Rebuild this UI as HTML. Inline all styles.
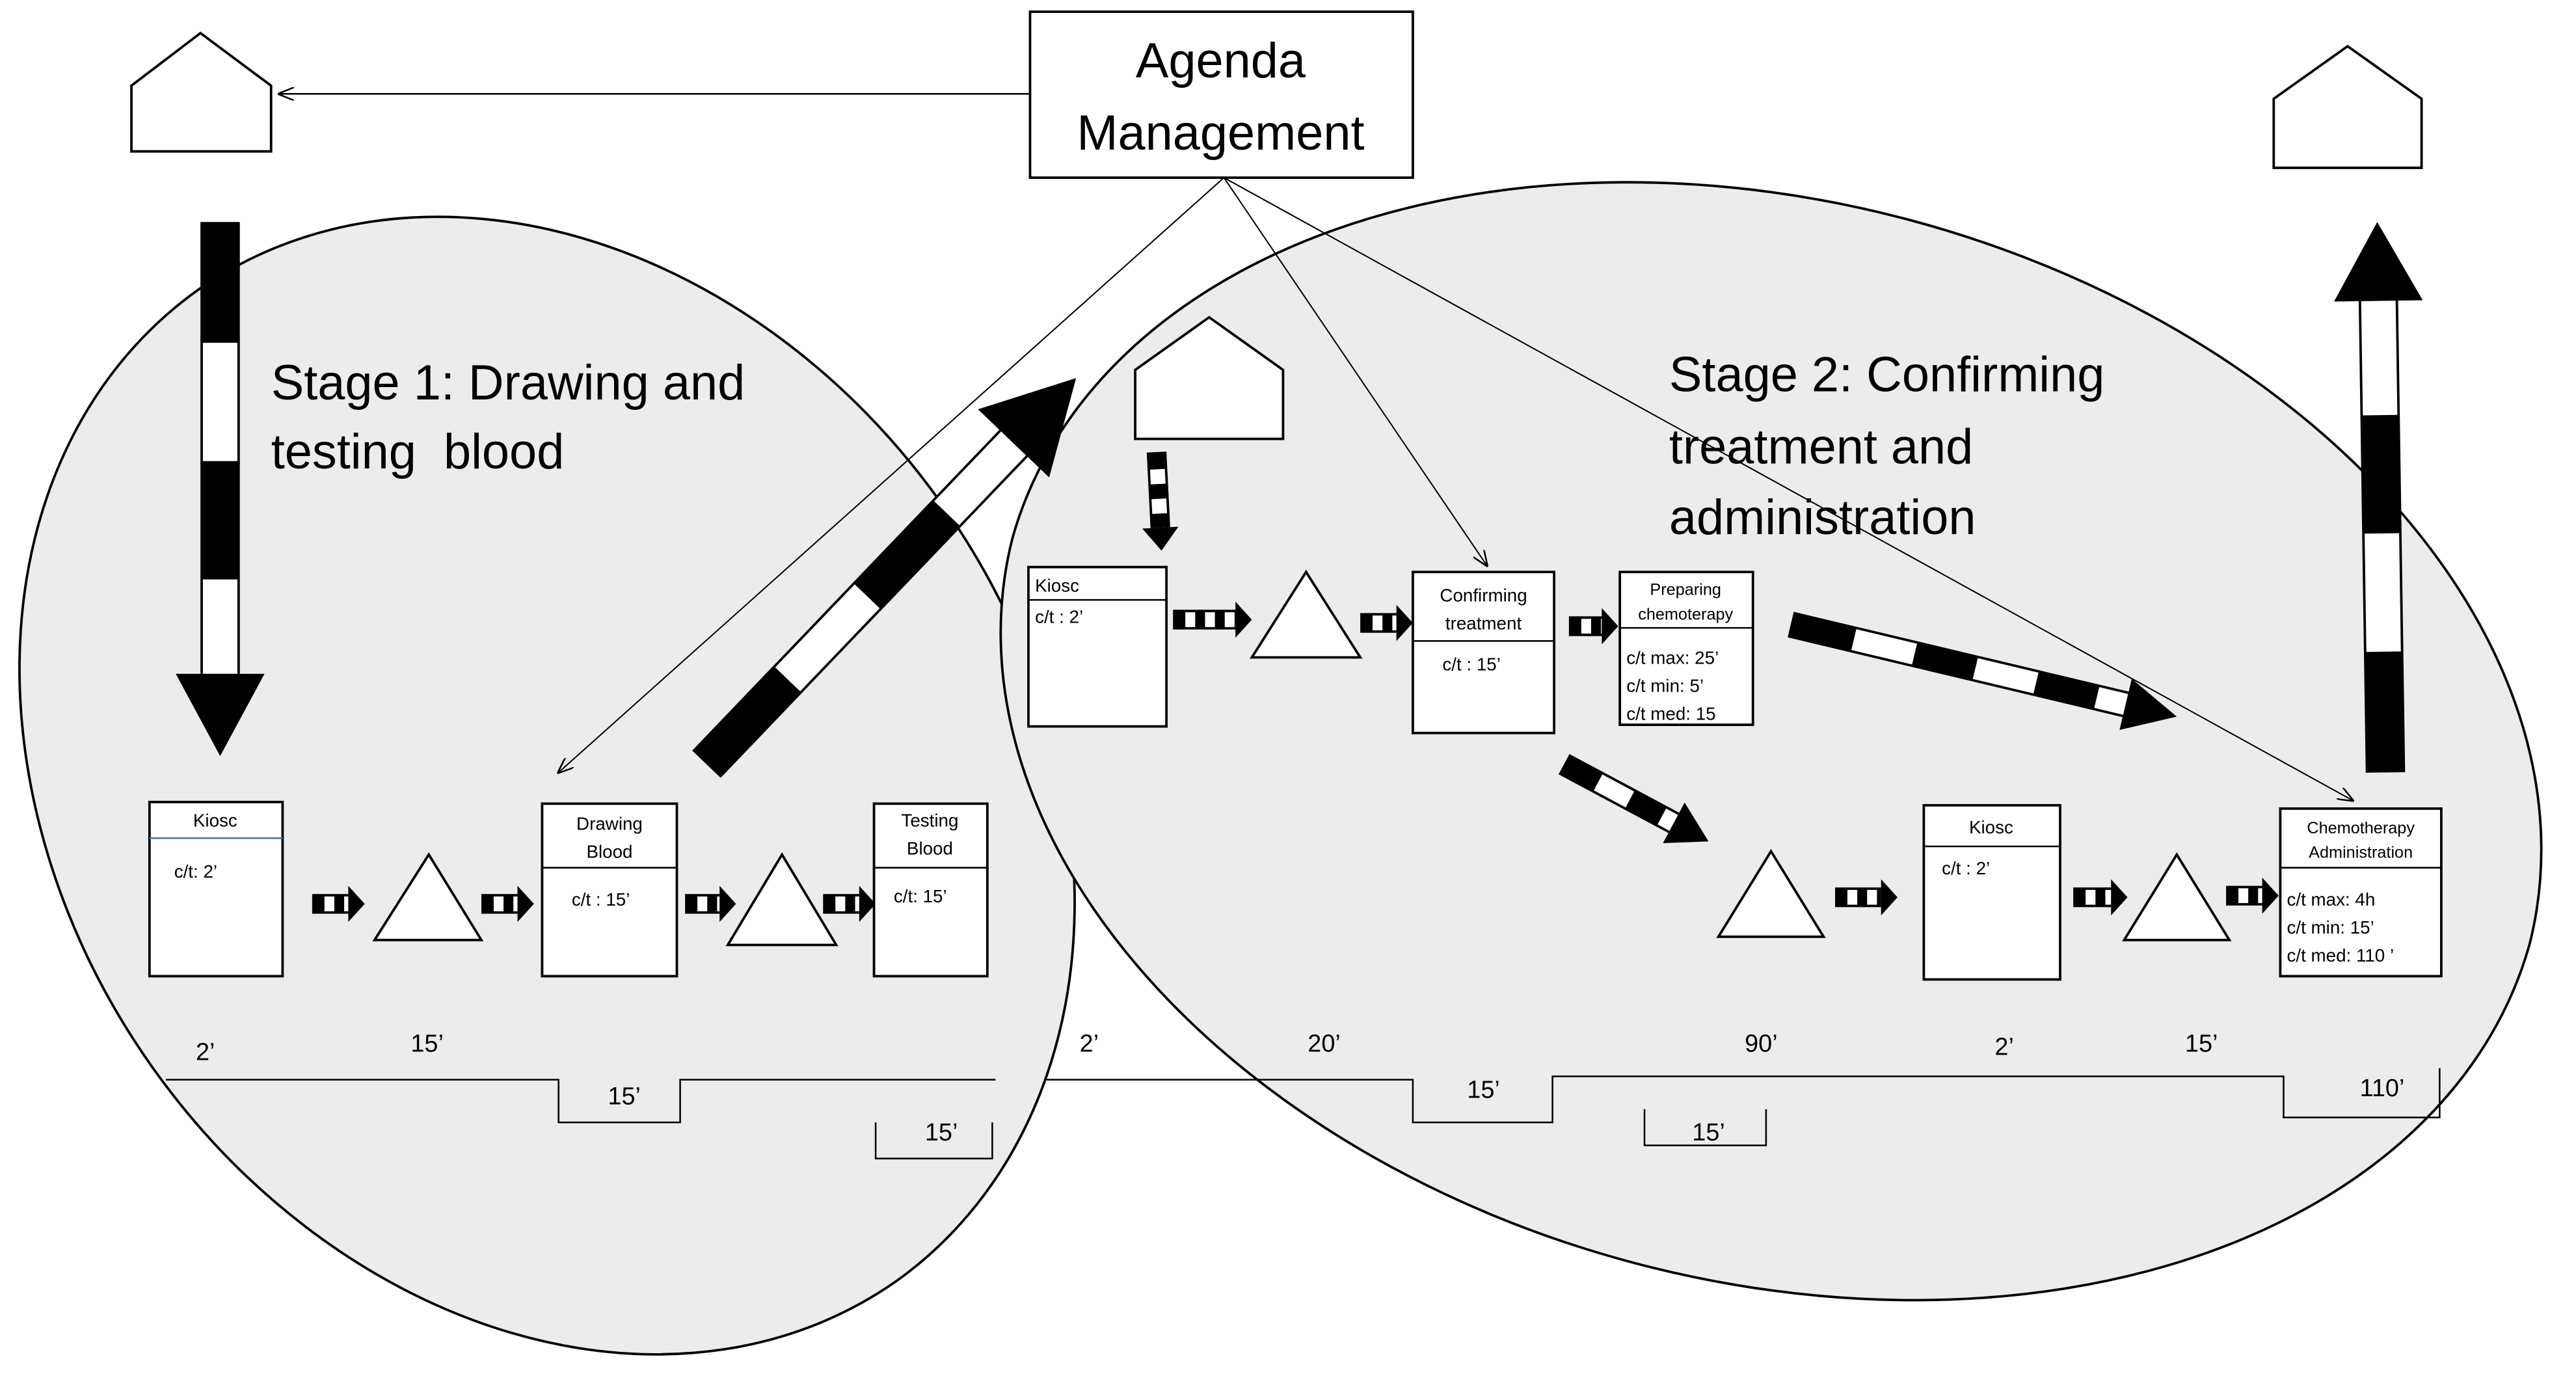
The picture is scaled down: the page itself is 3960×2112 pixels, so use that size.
<!DOCTYPE html>
<html><head><meta charset="utf-8"><style>
html,body{margin:0;padding:0;background:#fff;width:3960px;height:2112px;overflow:hidden;}
svg{display:block;}
text{font-family:"Liberation Sans",sans-serif;fill:#000;}
</style></head><body>
<svg id="s" width="3960" height="2112" viewBox="0 0 1568 836" xmlns="http://www.w3.org/2000/svg">
<defs>
<marker id="ah" markerWidth="10" markerHeight="8" refX="9" refY="4" orient="auto" markerUnits="userSpaceOnUse"><path d="M0,0 L10,4 L0,8" fill="none" stroke="#000" stroke-width="1"/></marker>
</defs>
<rect width="1568" height="836" fill="#fff"/>
<path d="M544.6,780.3 A369,296 55 0 1 121.4,175.7 A369,296 55 0 1 544.6,780.3 Z" fill="#ececec" stroke="#000" stroke-width="1.5"/>
<path d="M1539.7,574.7 A478,331 15 0 1 616.3,327.3 A478,331 15 0 1 1539.7,574.7 Z" fill="#ececec" stroke="#000" stroke-width="1.5"/>

<path d="M80,92 L80,52 L122,20 L165,52 L165,92 Z" fill="#fff" stroke="#000" stroke-width="1.5"/>
<path d="M1384,102 L1384,60 L1429,28 L1474,60 L1474,102 Z" fill="#fff" stroke="#000" stroke-width="1.5"/>
<path d="M691,267 L691,225 L736,193 L781,225 L781,267 Z" fill="#fff" stroke="#000" stroke-width="1.5"/>

<rect x="627" y="7" width="233" height="101" fill="#fff" stroke="#000" stroke-width="1.5"/>
<text x="743" y="47" font-size="30" text-anchor="middle">Agenda</text>
<text x="743" y="91" font-size="30" text-anchor="middle">Management</text>
<line x1="627" y1="57" x2="170" y2="57" stroke="#000" stroke-width="1" marker-end="url(#ah)"/>
<line x1="745" y1="108" x2="340" y2="470" stroke="#000" stroke-width="0.8" marker-end="url(#ah)"/>
<line x1="745" y1="108" x2="905" y2="344" stroke="#000" stroke-width="0.8" marker-end="url(#ah)"/>
<line x1="745" y1="108" x2="1432" y2="487" stroke="#000" stroke-width="0.8" marker-end="url(#ah)"/>

<g id="arrows"></g>

<text x="165" y="243" font-size="30">Stage 1: Drawing and</text>
<text x="165" y="285" font-size="30" xml:space="preserve">testing  blood</text>
<text x="1016" y="238" font-size="30">Stage 2: Confirming</text>
<text x="1016" y="282" font-size="30">treatment and</text>
<text x="1016" y="325" font-size="30">administration</text>

<g fill="#fff" stroke="#000" stroke-width="1.5">
<rect x="91" y="488" width="81" height="106"/>
<rect x="330" y="489" width="82" height="105"/>
<rect x="532" y="489" width="69" height="105"/>
<rect x="626" y="345" width="84" height="97"/>
<rect x="860" y="348" width="86" height="98"/>
<rect x="986" y="348" width="81" height="93"/>
<rect x="1171" y="490" width="83" height="106"/>
<rect x="1388" y="492" width="98" height="102"/>
<polygon points="228,572 261,520 293,572"/>
<polygon points="443,575 476,520 509,575"/>
<polygon points="762,400 795,348 828,400"/>
<polygon points="1046,570 1078,518 1110,570"/>
<polygon points="1293,572 1325,520 1357,572"/>
</g>
<g stroke="#000" stroke-width="1">
<line x1="91" y1="510" x2="172" y2="510" stroke="#4a6fa5"/>
<line x1="330" y1="528" x2="412" y2="528"/>
<line x1="532" y1="528" x2="601" y2="528"/>
<line x1="626" y1="365" x2="710" y2="365"/>
<line x1="860" y1="390" x2="946" y2="390"/>
<line x1="986" y1="382" x2="1067" y2="382"/>
<line x1="1171" y1="515" x2="1254" y2="515"/>
<line x1="1388" y1="528" x2="1486" y2="528"/>
</g>
<g font-size="11">
<text x="131" y="503" text-anchor="middle">Kiosc</text>
<text x="106" y="534">c/t: 2’</text>
<text x="371" y="505" text-anchor="middle">Drawing</text>
<text x="371" y="522" text-anchor="middle">Blood</text>
<text x="348" y="551">c/t : 15’</text>
<text x="566" y="503" text-anchor="middle">Testing</text>
<text x="566" y="520" text-anchor="middle">Blood</text>
<text x="544" y="549">c/t: 15’</text>
<text x="630" y="360">Kiosc</text>
<text x="630" y="379">c/t : 2’</text>
<text x="903" y="366" text-anchor="middle">Confirming</text>
<text x="903" y="383" text-anchor="middle">treatment</text>
<text x="878" y="408">c/t : 15’</text>
<text x="1026" y="362" text-anchor="middle" font-size="10">Preparing</text>
<text x="1026" y="377" text-anchor="middle" font-size="10">chemoterapy</text>
<text x="990" y="404">c/t max: 25’</text>
<text x="990" y="421">c/t min: 5’</text>
<text x="990" y="438">c/t med: 15</text>
<text x="1212" y="507" text-anchor="middle">Kiosc</text>
<text x="1182" y="532">c/t : 2’</text>
<text x="1437" y="507" text-anchor="middle" font-size="10">Chemotherapy</text>
<text x="1437" y="522" text-anchor="middle" font-size="10">Administration</text>
<text x="1392" y="551">c/t max: 4h</text>
<text x="1392" y="568">c/t min: 15’</text>
<text x="1392" y="585">c/t med: 110 ’</text>
</g>

<g fill="none" stroke="#000" stroke-width="1">
<polyline points="101,657 340,657 340,683 414,683 414,657 606,657"/>
<polyline points="533,683 533,705 604,705 604,683"/>
<polyline points="637,657 860,657 860,683 945,683 945,655 1390,655 1390,680 1485,680 1485,650"/>
<polyline points="1001,675 1001,697 1075,697 1075,675"/>
</g>
<g font-size="15" text-anchor="middle">
<text x="125" y="645">2’</text>
<text x="260" y="640">15’</text>
<text x="380" y="672">15’</text>
<text x="573" y="694">15’</text>
<text x="663" y="640">2’</text>
<text x="806" y="640">20’</text>
<text x="903" y="668">15’</text>
<text x="1040" y="694">15’</text>
<text x="1072" y="640">90’</text>
<text x="1220" y="642">2’</text>
<text x="1340" y="640">15’</text>
<text x="1450" y="667">110’</text>
</g>
</svg>
<script>
(function(){
var g=document.getElementById('arrows'),ns='http://www.w3.org/2000/svg';
function el(t,a){var e=document.createElementNS(ns,t);for(var k in a)e.setAttribute(k,a[k]);g.appendChild(e);return e;}
function arr(x1,y1,x2,y2,w,hw,hl,dash){
 var dx=x2-x1,dy=y2-y1,L=Math.sqrt(dx*dx+dy*dy),ux=dx/L,uy=dy/L,px=-uy,py=ux;
 var bx=x2-ux*hl,by=y2-uy*hl;
 el('line',{x1:x1,y1:y1,x2:bx,y2:by,stroke:'#000','stroke-width':w});
 el('line',{x1:x1+ux*1.5,y1:y1+uy*1.5,x2:bx,y2:by,stroke:'#fff','stroke-width':w-3,'stroke-dasharray':dash+' '+dash,'stroke-dashoffset':dash});
 el('polygon',{points:[bx+px*hw,by+py*hw,x2,y2,bx-px*hw,by-py*hw].join(','),fill:'#000'});
}
arr(134,135,134,460,24,27,50,72);
arr(430,465,655,230,24,30,55,70);
arr(1452,470,1447,135,24,27,48,72);
arr(1090,380,1325,436,16,16,32,38);
arr(952,465,1040,512,14,14,24,22);
arr(704,275,707,335,12,11,14,9);
var sm=[[190,550,222,550],[293,550,325,550],[417,550,448,550],[501,550,533,550],[714,377,762,377],[828,379,860,379],[955,381,985,381],[1117,546,1155,546],[1262,546,1295,546],[1355,545,1387,545]];
sm.forEach(function(a){arr(a[0],a[1],a[2],a[3],12,11,10,6);});
})();
</script>
</body></html>
